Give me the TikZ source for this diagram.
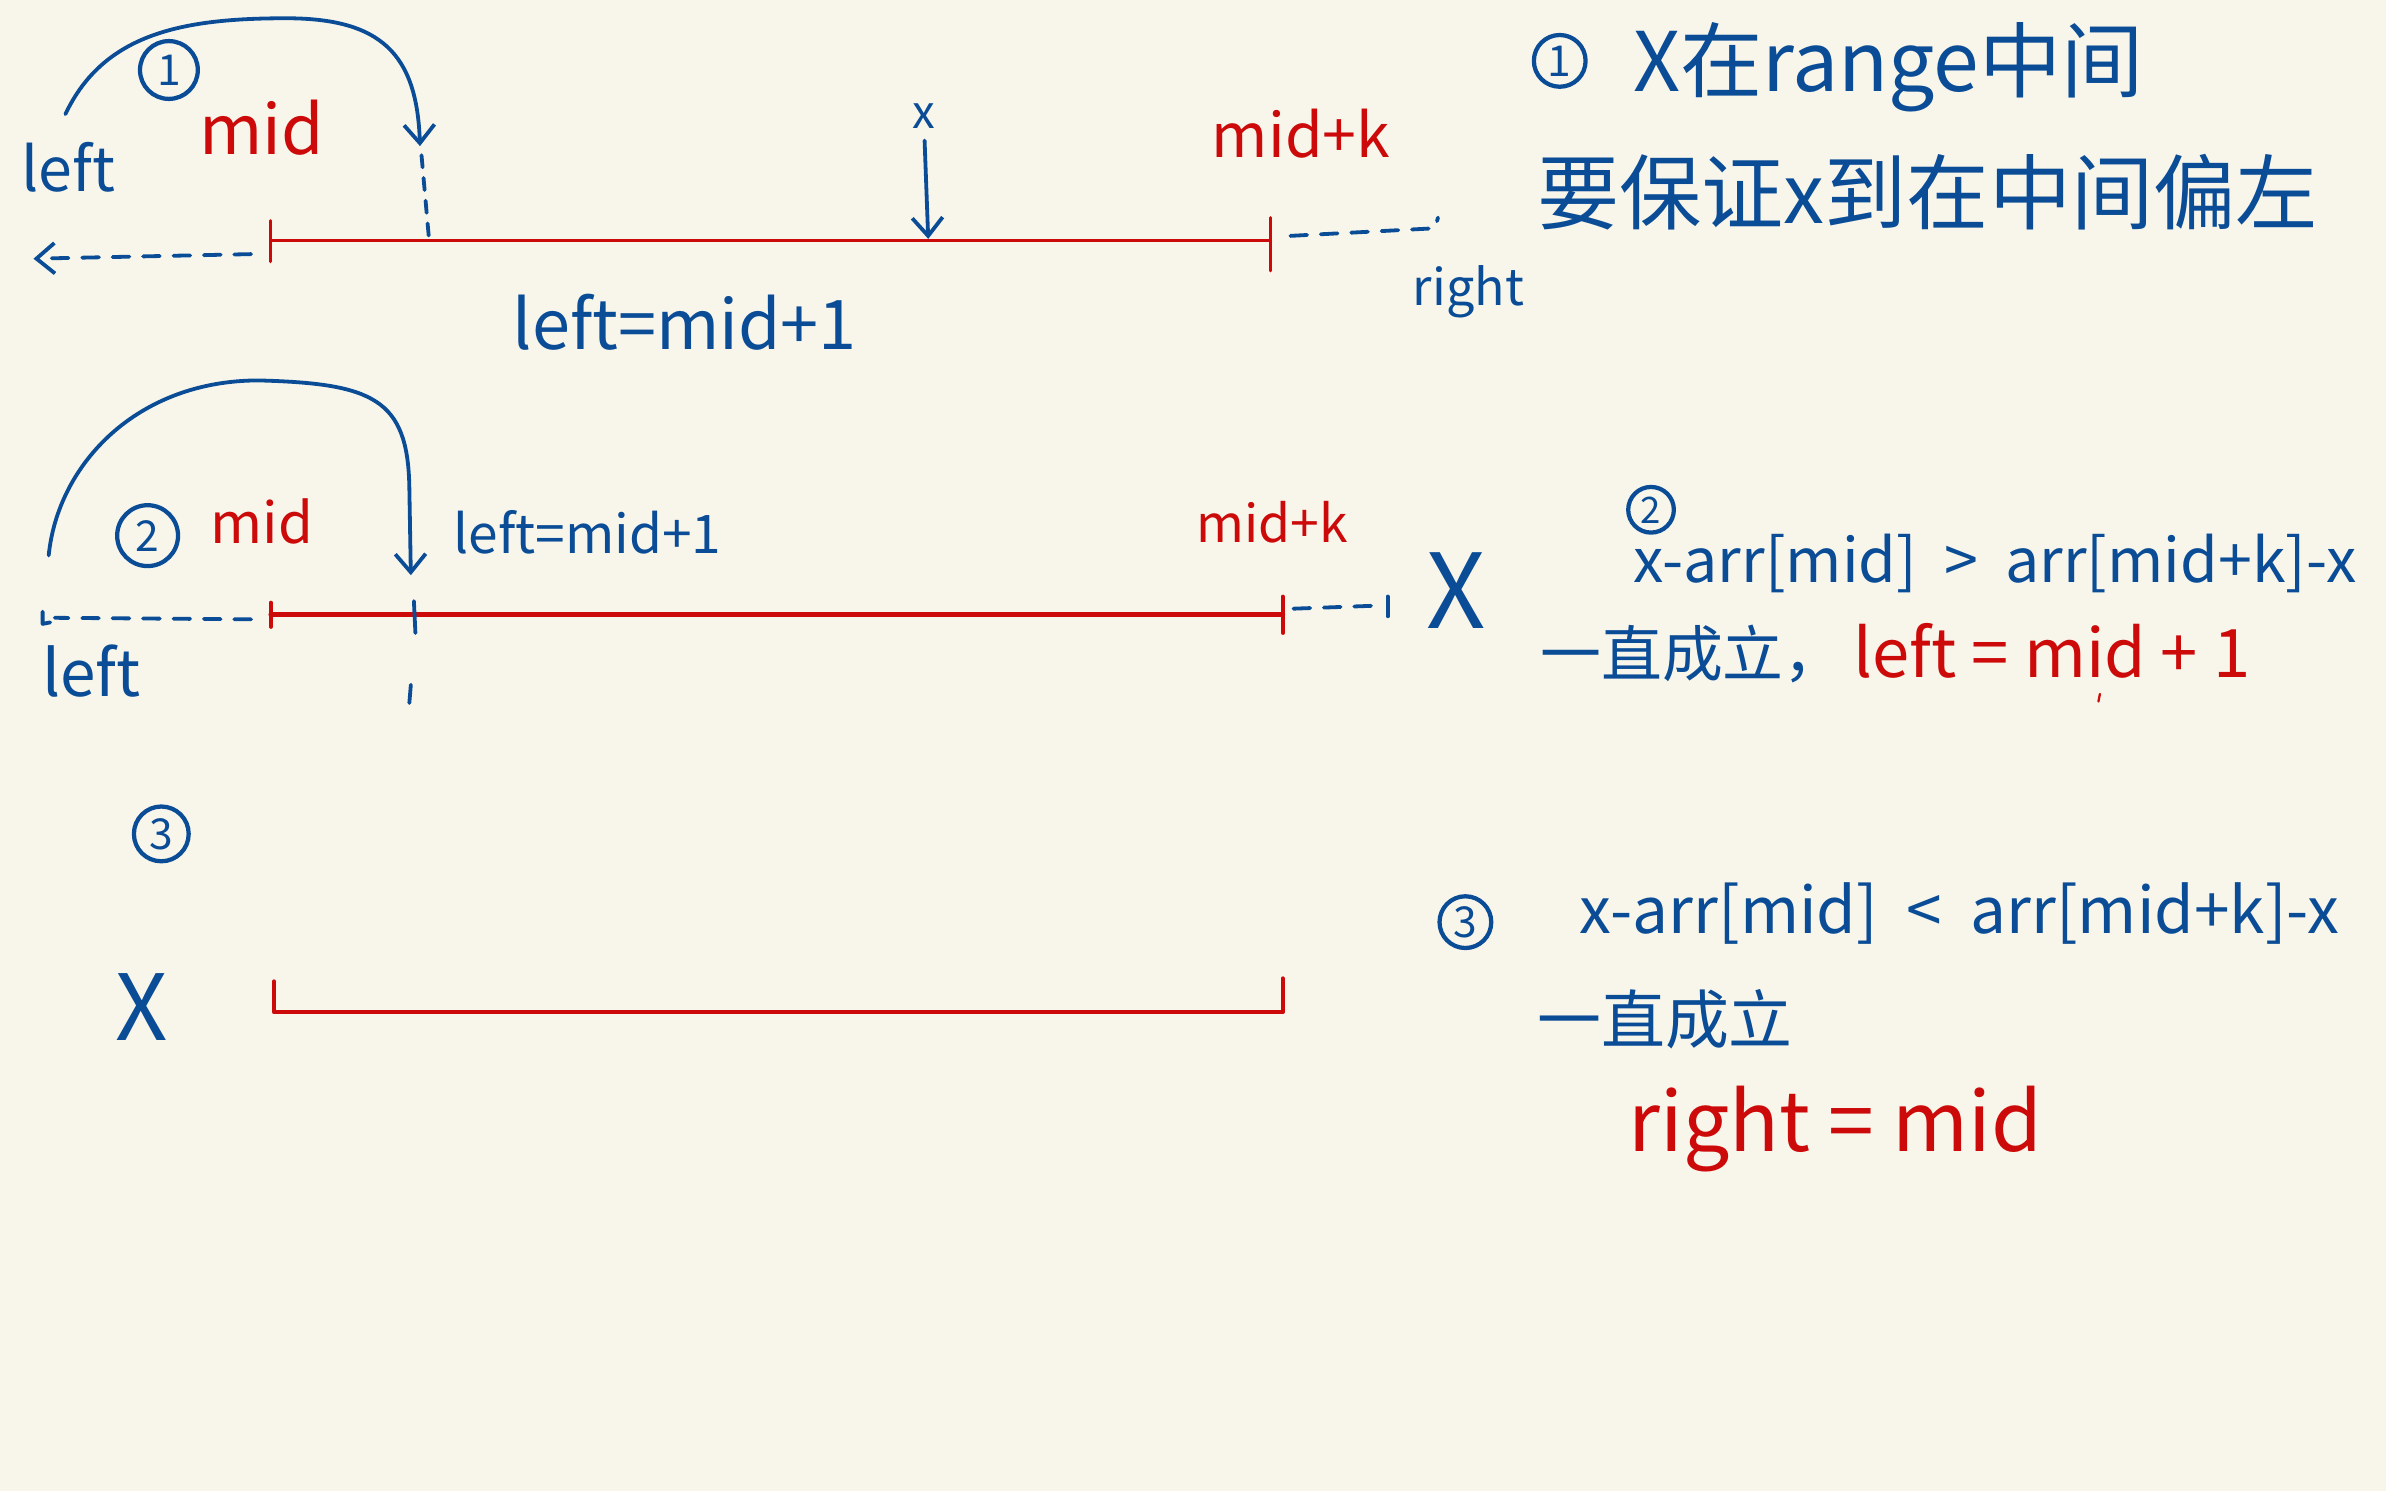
\documentclass[tikz,border=0pt]{standalone}
\usepackage{fontspec}
\setmainfont{Noto Sans CJK SC}
\usetikzlibrary{arrows.meta}
\definecolor{paper}{HTML}{F8F6EB}
\definecolor{ink}{HTML}{0B4C97}
\definecolor{rink}{HTML}{CC0A0A}
\begin{document}
\begin{tikzpicture}[x=1pt,y=-1pt,line cap=round,line join=round,
  bl/.style={draw=ink,line width=2.5pt},
  rl/.style={draw=rink,line width=#1},
  rl/.default=2pt,
  hand/.style={dash pattern=on 11pt off 9pt},
  tipv/.style={-{Straight Barb[length=12pt,width=20pt]}},
  tb/.style={text=ink,inner sep=0pt,font=\fontsize{#1}{#1}\selectfont},
  tr/.style={text=rink,inner sep=0pt,font=\fontsize{#1}{#1}\selectfont},
  numc/.style={circle,draw=ink,line width=2.8pt,text=ink,inner sep=0pt,minimum size=#1,font=\fontsize{28}{28}\selectfont}]
\fill[paper] (0,0) rectangle (1568,980);
\useasboundingbox (0,0) rectangle (1568,980);

% ---------------- section 1 ----------------
\coordinate (s1a) at (178,158);
\coordinate (s1b) at (835,158);
\node[tb=40] (left1) at (45,110) {left};
\node[numc=38pt] (n1) at (111,46) {1};
\node[tr=45] (mid1) at (172,84) {mid};
\node[tb=30] (x1) at (607,76) {x};
\node[tr=40] (midk1) at (855,88) {mid+k};
\node[tb=33] (right1) at (965,192) {right};
\node[tb=45] (lm1) at (450,212) {left=mid+1};

\draw[rl] (s1a) -- (s1b);
\draw[rl] (s1a) ++(0,-13) -- ++(0,27);
\draw[rl] (s1b) ++(0,-15) -- ++(0,35);

\coordinate (c1s) at (43,75);
\coordinate (a1) at (276,96);
\coordinate (p1) at (282,158);
\draw[bl,tipv] (c1s) .. controls (68,22) and (120,12) .. (188,12)
  .. controls (250,12) and (274,35) .. (a1);
\draw[bl,dash pattern=on 8pt off 7pt] (a1) ++(1,6) -- (p1);

\coordinate (d1s) at (165,167);
\coordinate (d1e) at (22,170);
\draw[bl,hand,tipv] (d1s) -- (d1e);

\coordinate (px1) at (610,157);
\draw[bl,tipv,shorten <=8pt] (x1) -- (px1);

\coordinate (d1r) at (848,155);
\coordinate (d1q) at (943,150);
\draw[bl,hand] (d1r) -- (d1q) -- ++(2,-7);

% ---------------- section 2 ----------------
\coordinate (s2a) at (178,404);
\coordinate (s2b) at (843,404);
\node[numc=40pt] (n2) at (97,352) {2};
\node[tr=37] (mid2) at (172,343) {mid};
\node[tb=35] (lm2) at (386,350) {left=mid+1};
\node[tr=34] (midk2) at (836,343) {mid+k};
\node[tb=42] (left2) at (60,441) {left};
\node[tb=68] (X2) at (957,388) {X};

\draw[rl=3.2pt] (s2a) -- (s2b);
\draw[rl=2.5pt] (s2a) ++(0,-8) -- ++(0,16);
\draw[rl=2.5pt] (s2b) ++(0,-12) -- ++(0,24);
\coordinate (t2) at (272,395);
\draw[bl] (t2) -- ++(1,21);

\coordinate (c2s) at (32,365);
\coordinate (a2) at (270,378);
\draw[bl,tipv] (c2s) .. controls (38,305) and (90,250) .. (170,250)
  .. controls (245,252) and (268,262) .. (269,320) -- (a2);

\coordinate (d2s) at (165,407);
\coordinate (d2e) at (36,406);
\draw[bl,hand] (d2s) -- (d2e);
\draw[bl] (28,402) -- (28,410) -- (33,409);

\coordinate (d2r) at (850,400);
\coordinate (d2q) at (905,398);
\draw[bl,hand] (d2r) -- (d2q);
\draw[bl] (912,392) -- (912,405);
\draw[bl] (270,450) -- (269,462);

% ---------------- section 3 ----------------
\node[numc=36pt] (n3) at (106,548) {3};
\node[tb=60] (X3) at (93,662) {X};
\coordinate (s3a) at (180,665);
\coordinate (s3b) at (843,665);
\draw[rl=2.8pt] (s3a) ++(0,-20) -- (s3a) -- (s3b) -- ++(0,-22);

% ---------------- right-hand notes ----------------
\node[numc=34pt] (h1) at (1025,40) {1};
\node[tb=54,anchor=west] (head1) at (1073,44) {X在range中间};
\node[tb=54,anchor=west] (head2) at (1010,126) {要保证x到在中间偏左};

\node[numc=30pt,font=\fontsize{24}{24}\selectfont] (n2r) at (1085,335) {2};
\node[tb=40,anchor=west] (f2) at (1073,370) {x-arr[mid]\ \ >\ \ arr[mid+k]-x};
\node[tb=40,anchor=west] (c2) at (1012,430) {一直成立，};
\node[tr=44,anchor=west] (r2) at (1218,428) {left = mid + 1};
\draw[draw=rink,line width=1.5pt] (1380,456) -- (1379,461);

\node[numc=34pt] (n3r) at (963,606) {3};
\node[tb=42,anchor=west] (f3) at (1038,600) {x-arr[mid]\ \ <\ \ arr[mid+k]-x};
\node[tb=42,anchor=west] (c3) at (1010,670) {一直成立};
\node[tr=54,anchor=west] (r3) at (1070,742) {right = mid};
\end{tikzpicture}
\end{document}
